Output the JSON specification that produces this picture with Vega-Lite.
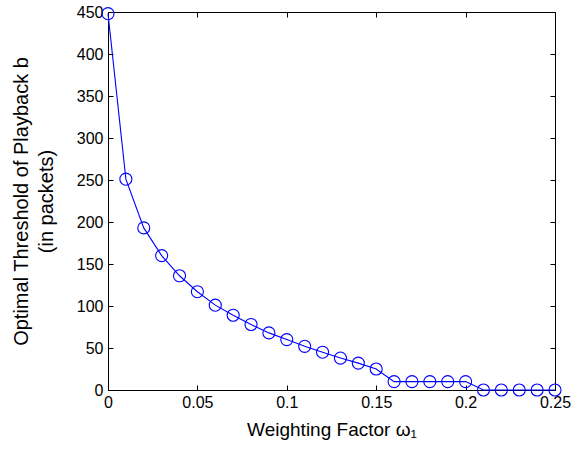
{
  "$schema": "https://vega.github.io/schema/vega-lite/v6.json",
  "width": 447,
  "height": 378,
  "autosize": "none",
  "padding": {"left": 108, "top": 12, "right": 17, "bottom": 67},
  "background": "white",
  "config": {
    "view": {"stroke": "black", "strokeWidth": 1},
    "font": "Liberation Sans",
    "axis": {
      "labelFont": "Liberation Sans",
      "titleFont": "Liberation Sans",
      "labelFontSize": 16,
      "titleFontSize": 19,
      "titleFontWeight": "normal",
      "labelColor": "black",
      "titleColor": "black",
      "domainColor": "black",
      "tickColor": "black",
      "grid": false,
      "tickSize": -5,
      "labelFlush": false,
      "labelOverlap": false
    }
  },
  "data": {
    "values": [
      {"w": 0.00, "b": 448},
      {"w": 0.01, "b": 251},
      {"w": 0.02, "b": 193},
      {"w": 0.03, "b": 160},
      {"w": 0.04, "b": 136},
      {"w": 0.05, "b": 117},
      {"w": 0.06, "b": 101},
      {"w": 0.07, "b": 89},
      {"w": 0.08, "b": 78},
      {"w": 0.09, "b": 68},
      {"w": 0.10, "b": 60},
      {"w": 0.11, "b": 52},
      {"w": 0.12, "b": 45},
      {"w": 0.13, "b": 38},
      {"w": 0.14, "b": 32},
      {"w": 0.15, "b": 25},
      {"w": 0.16, "b": 10},
      {"w": 0.17, "b": 10},
      {"w": 0.18, "b": 10},
      {"w": 0.19, "b": 10},
      {"w": 0.20, "b": 10},
      {"w": 0.21, "b": 0},
      {"w": 0.22, "b": 0},
      {"w": 0.23, "b": 0},
      {"w": 0.24, "b": 0},
      {"w": 0.25, "b": 0}
    ]
  },
  "resolve": {"axis": {"x": "independent", "y": "independent"}},
  "layer": [
    {
      "mark": {"type": "line", "color": "#0000ff", "strokeWidth": 1.1, "clip": false},
      "encoding": {
        "x": {
          "field": "w", "type": "quantitative",
          "scale": {"domain": [0, 0.25], "nice": false, "zero": false},
          "axis": {"orient": "bottom", "values": [0, 0.05, 0.1, 0.15, 0.2, 0.25], "format": "~g", "title": "Weighting Factor ω₁", "labelPadding": 9, "titlePadding": 10}
        },
        "y": {
          "field": "b", "type": "quantitative",
          "scale": {"domain": [0, 450], "nice": false},
          "axis": {"orient": "left", "values": [0, 50, 100, 150, 200, 250, 300, 350, 400, 450], "title": ["Optimal Threshold of Playback b", "(in packets)"], "titleFontSize": 20, "titleLineHeight": 25, "labelPadding": 10, "titlePadding": 20}
        }
      }
    },
    {
      "mark": {"type": "point", "shape": "circle", "filled": false, "color": "#0000ff", "size": 145, "strokeWidth": 1.1, "opacity": 1, "clip": false},
      "encoding": {
        "x": {
          "field": "w", "type": "quantitative",
          "axis": {"orient": "top", "values": [0, 0.05, 0.1, 0.15, 0.2, 0.25], "labels": false, "title": null, "domain": false}
        },
        "y": {
          "field": "b", "type": "quantitative",
          "axis": {"orient": "right", "values": [0, 50, 100, 150, 200, 250, 300, 350, 400, 450], "labels": false, "title": null, "domain": false}
        }
      }
    }
  ]
}
